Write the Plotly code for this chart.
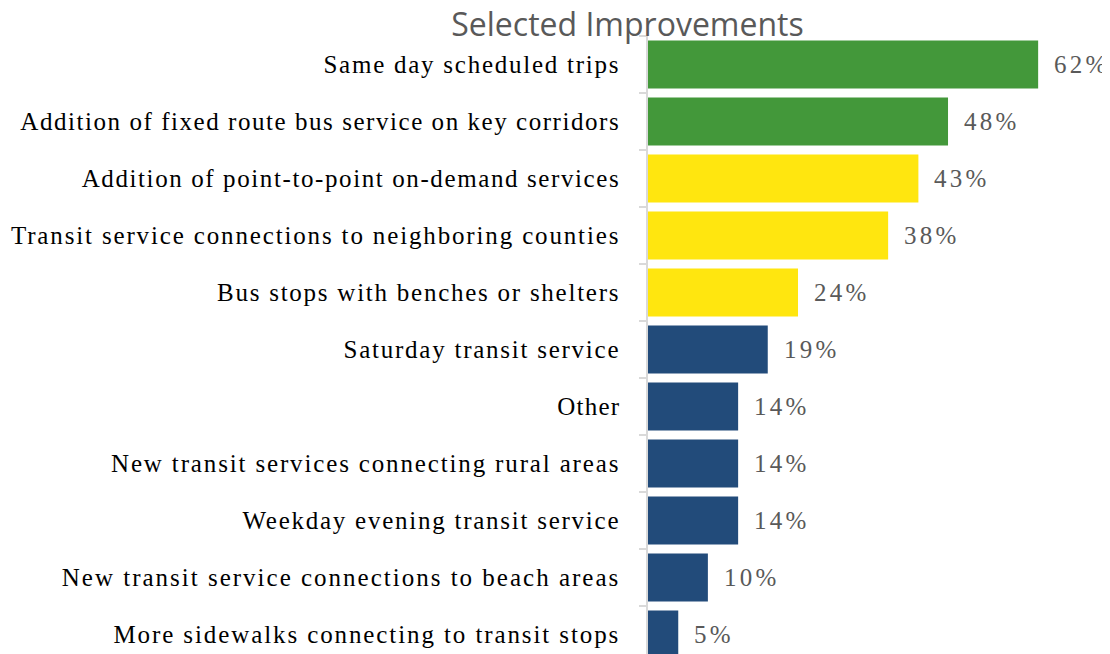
import plotly.graph_objects as go

categories = [
    "Same day scheduled trips",
    "Addition of fixed route bus service on key corridors",
    "Addition of point-to-point on-demand services",
    "Transit service connections to neighboring counties",
    "Bus stops with benches or shelters",
    "Saturday transit service",
    "Other",
    "New transit services connecting rural areas",
    "Weekday evening transit service",
    "New transit service connections to beach areas",
    "More sidewalks connecting to transit stops",
]
values = [61.9, 47.6, 42.9, 38.1, 23.8, 19.0, 14.3, 14.3, 14.3, 9.5, 4.8]
labels = ["62%", "48%", "43%", "38%", "24%", "19%", "14%", "14%", "14%", "10%", "5%"]
colors = ["#43983a", "#43983a", "#ffe60f", "#ffe60f", "#ffe60f",
          "#224b7a", "#224b7a", "#224b7a", "#224b7a", "#224b7a", "#224b7a"]
# letter-spacing (px) per category label, to mimic the reference's loose type
label_spacing = [1.75, 1.55, 1.6, 1.85, 1.75, 1.75, 1.2, 1.85, 1.75, 2.0, 1.9]

# The page body has an 8px default margin; size the figure so the page is 1110x654.
OFF = 8
W, H = 1110 - OFF, 654 - OFF

def spaced(s, ls):
    return f'<span style="letter-spacing:{ls}px">{s}</span>'

fig = go.Figure()
fig.add_trace(go.Bar(
    x=values, y=categories, orientation="h",
    marker=dict(color=colors, line=dict(width=0)),
    hoverinfo="skip",
))
for c, v, t in zip(categories, values, labels):
    fig.add_annotation(x=v, y=c, text=spaced(t, 3.2), showarrow=False, xanchor="left",
                       xshift=14, yshift=0,
                       font=dict(family="Liberation Serif", size=25, color="#595959"))

fig.update_layout(
    width=W, height=H,
    margin=dict(l=648 - OFF, r=0, t=36 - OFF, b=0, autoexpand=False),
    paper_bgcolor="white", plot_bgcolor="white",
    bargap=0.16,
    showlegend=False,
    title=dict(text="Selected Improvements", x=(627.5 - OFF) / W, xanchor="center",
               y=1 - 17 / H, yanchor="middle", yref="container",
               font=dict(family="Open Sans", size=32, color="#595959")),
    xaxis=dict(visible=False, range=[0, 73.3]),
    yaxis=dict(
        categoryorder="array", categoryarray=categories,
        tickmode="array", tickvals=categories,
        ticktext=[spaced(c, ls) for c, ls in zip(categories, label_spacing)],
        range=[10.342, -0.5], autorange=False, automargin=False,
        showline=True, linecolor="#d9d9d9", linewidth=1.5,
        ticks="outside", tickson="boundaries", ticklen=7, tickcolor="#d9d9d9",
        tickwidth=1.5, showgrid=False, zeroline=False,
        ticklabelstandoff=21,
        tickfont=dict(family="Liberation Serif", size=25, color="#000000"),
    ),
)
fig.write_html("out.html")
